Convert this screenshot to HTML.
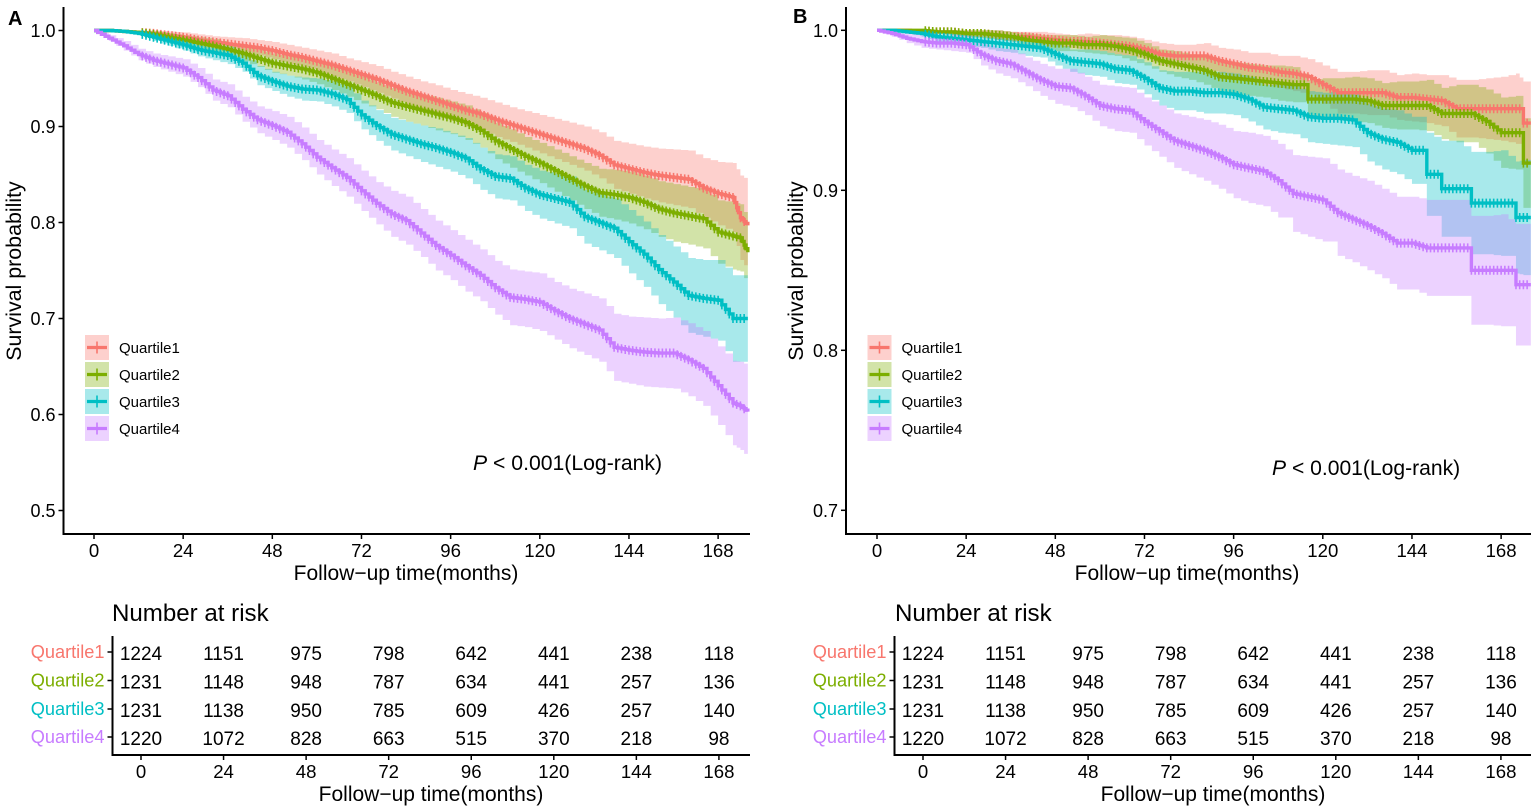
<!DOCTYPE html>
<html lang="en">
<head>
<meta charset="utf-8">
<title>Kaplan-Meier survival curves by quartile</title>
<style>
html,body{margin:0;padding:0;background:#fff;width:1535px;height:811px;overflow:hidden}
svg{display:block}
text{font-family:"Liberation Sans",Arial,sans-serif;fill:#000}
</style>
</head>
<body>
<svg id="chart" xmlns="http://www.w3.org/2000/svg" width="1535" height="811" viewBox="0 0 1535 811">
  <text x="8" y="25" font-size="20" font-weight="bold">A</text>
  <text x="793" y="23" font-size="20" font-weight="bold">B</text>
  <text transform="translate(21,271) rotate(-90)" text-anchor="middle" font-size="21.4">Survival probability</text>
  <text transform="translate(803,271) rotate(-90)" text-anchor="middle" font-size="21.4">Survival probability</text>
  <text x="406" y="580" text-anchor="middle" font-size="21">Follow−up time(months)</text>
  <text x="1187" y="580" text-anchor="middle" font-size="21">Follow−up time(months)</text>
  <text x="473" y="470" font-size="21.2"><tspan font-style="italic">P</tspan> &lt; 0.001(Log-rank)</text>
  <text x="1272" y="475" font-size="21.1"><tspan font-style="italic">P</tspan> &lt; 0.001(Log-rank)</text>
  <text x="112" y="621" font-size="24.1">Number at risk</text>
  <text x="895" y="621" font-size="24.1">Number at risk</text>
  <text x="431" y="801" text-anchor="middle" font-size="21">Follow−up time(months)</text>
  <text x="1213" y="801" text-anchor="middle" font-size="21">Follow−up time(months)</text>
</svg>
<script>
var quartileNames = ["Quartile1","Quartile2","Quartile3","Quartile4"];
var quartileColors = ["#F8766D","#7CAE00","#00BFC4","#C77CFF"];
var monthTicks = [0,24,48,72,96,120,144,168];
var yTicksA = [1.0,0.9,0.8,0.7,0.6,0.5];
var yTicksB = [1.0,0.9,0.8,0.7];
var months = [0,4,8,12,16,20,24,28,32,36,40,44,48,52,56,60,64,68,72,76,80,84,88,92,96,100,104,108,112,116,120,124,128,132,136,140,144,148,152,156,160,164,168,172,174,176];

var survivalA1 = [1,1,.999,.998,.997,.995,.993,.990,.988,.986,.984,.982,.979,.975,.972,.968,.964,.959,.954,.949,.943,.937,.932,.927,.922,.917,.913,.907,.902,.897,.892,.887,.882,.877,.870,.860,.856,.852,.849,.847,.845,.836,.830,.826,.805,.797];
var survivalA2 = [1,1,.999,.998,.996,.993,.990,.987,.984,.980,.976,.971,.966,.963,.960,.956,.950,.944,.938,.932,.925,.921,.917,.913,.909,.904,.896,.885,.877,.869,.862,.854,.846,.838,.831,.829,.826,.821,.814,.810,.807,.804,.790,.786,.784,.769];
var survivalA3 = [1,1,.999,.997,.993,.989,.985,.980,.977,.974,.966,.953,.947,.942,.939,.938,.934,.928,.912,.901,.892,.887,.882,.878,.873,.867,.856,.848,.846,.836,.829,.825,.821,.806,.800,.794,.780,.767,.751,.738,.724,.721,.719,.700,.700,.700];
var survivalA4 = [1,.992,.984,.975,.969,.965,.961,.951,.938,.932,.918,.907,.901,.894,.882,.868,.857,.847,.833,.820,.809,.802,.789,.776,.766,.755,.745,.732,.722,.720,.717,.708,.700,.694,.688,.670,.667,.665,.664,.664,.657,.648,.630,.612,.609,.603];

var ciHalfA1 = [0,0,.001,.002,.003,.004,.005,.006,.006,.007,.008,.008,.009,.010,.010,.011,.012,.012,.013,.014,.014,.015,.015,.016,.016,.017,.017,.018,.018,.019,.020,.021,.022,.023,.024,.025,.026,.027,.028,.029,.030,.031,.033,.036,.044,.047];
var ciHalfA2 = [0,0,.001,.002,.003,.004,.005,.006,.007,.007,.008,.009,.010,.010,.011,.012,.012,.013,.014,.014,.015,.016,.016,.017,.017,.018,.018,.019,.020,.020,.021,.022,.023,.024,.025,.026,.027,.028,.029,.030,.030,.031,.033,.035,.035,.034];
var ciHalfA3 = [0,0,.001,.002,.004,.005,.006,.007,.008,.009,.009,.010,.010,.011,.012,.012,.013,.014,.015,.016,.017,.018,.019,.020,.020,.021,.022,.023,.023,.024,.025,.026,.027,.028,.029,.031,.033,.034,.036,.037,.039,.040,.042,.045,.045,.045];
var ciHalfA4 = [0,.003,.005,.006,.007,.008,.009,.010,.011,.012,.013,.014,.015,.016,.017,.018,.019,.020,.021,.022,.024,.025,.025,.026,.026,.027,.027,.028,.029,.029,.030,.030,.031,.032,.033,.035,.035,.036,.036,.037,.038,.039,.041,.044,.046,.048];

var survivalB1 = [1,1,1,.999,.999,.999,.998,.998,.997,.996,.996,.995,.994,.993,.993,.992,.991,.990,.988,.985,.984,.984,.984,.981,.979,.977,.976,.974,.973,.971,.966,.961,.961,.961,.961,.958,.958,.957,.956,.951,.951,.951,.951,.951,.942,.942];
var survivalB2 = [1,1,1,1,.999,.999,.998,.998,.997,.996,.994,.993,.992,.992,.991,.991,.990,.988,.985,.981,.979,.977,.975,.971,.970,.969,.968,.967,.966,.957,.957,.957,.957,.956,.953,.953,.953,.953,.948,.948,.948,.943,.936,.936,.917,.917];
var survivalB3 = [1,1,.999,.998,.996,.995,.994,.993,.992,.991,.990,.989,.985,.981,.980,.979,.976,.975,.970,.964,.962,.962,.961,.961,.960,.957,.952,.951,.950,.946,.945,.945,.944,.936,.932,.930,.925,.910,.901,.901,.892,.892,.892,.883,.883,.883];
var survivalB4 = [1,.998,.995,.993,.992,.992,.991,.985,.981,.979,.974,.969,.965,.964,.959,.953,.951,.950,.943,.937,.931,.928,.925,.921,.916,.914,.912,.906,.898,.896,.894,.886,.882,.878,.873,.867,.867,.864,.864,.864,.850,.850,.850,.841,.841,.841];

var ciHalfB1 = [0,0,0,.001,.001,.002,.002,.002,.003,.003,.003,.004,.004,.004,.005,.005,.006,.006,.006,.007,.007,.007,.008,.008,.009,.009,.010,.010,.011,.011,.012,.013,.013,.014,.014,.014,.015,.015,.016,.018,.018,.019,.020,.022,.026,.026];
var ciHalfB2 = [0,0,0,.001,.001,.002,.002,.003,.003,.003,.004,.004,.005,.005,.005,.006,.006,.007,.007,.007,.008,.008,.009,.009,.010,.010,.010,.011,.011,.012,.013,.013,.014,.014,.014,.015,.015,.016,.016,.018,.018,.020,.022,.023,.028,.028];
var ciHalfB3 = [0,0,.001,.002,.003,.003,.004,.004,.005,.005,.006,.006,.007,.007,.008,.008,.009,.009,.010,.011,.012,.012,.013,.013,.013,.014,.014,.015,.015,.016,.016,.017,.017,.018,.019,.020,.021,.026,.030,.030,.032,.032,.033,.035,.036,.036];
var ciHalfB4 = [0,.002,.003,.004,.004,.005,.005,.007,.008,.009,.009,.010,.011,.012,.012,.013,.014,.014,.015,.016,.017,.018,.019,.020,.021,.022,.022,.023,.024,.025,.026,.027,.027,.028,.028,.029,.029,.030,.030,.030,.034,.034,.035,.038,.038,.038];

var censorMonths = [13,14,15,16,17,18,19,20,21,22,23,24,25,26,27,28,29,30,31,32,33,34,35,36,37,38,39,40,41,42,43,44,45,46,47,48,49,50,51,52,53,54,55,56,57,58,59,60,61,62,63,64,65,66,67,68,69,70,71,72,73,74,75,76,77,78,79,80,81,82,83,84,85,86,87,88,89,90,91,92,93,94,95,96,97,98,99,100,101,102,103,104,105,106,107,108,109,110,111,112,113,114,115,116,117,118,119,120,121,122,123,124,125,126,127,128,129,130,131,132,133,134,135,136,137,138,139,140,141,142,143,144,145,146,147,148,149,150,151,152,153,154,155,156,157,158,159,160,161,162,163,164,165,166,167,168,169,170,171,172,173,174,175];
var riskQ1 = [1224,1151,975,798,642,441,238,118];
var riskQ2 = [1231,1148,948,787,634,441,257,136];
var riskQ3 = [1231,1138,950,785,609,426,257,140];
var riskQ4 = [1220,1072,828,663,515,370,218,98];

var NS = "http://www.w3.org/2000/svg";
var svg = document.getElementById("chart");

function make(tag, attrs, parent) {
  var el = document.createElementNS(NS, tag);
  for (var k in attrs) el.setAttribute(k, attrs[k]);
  (parent || svg).appendChild(el);
  return el;
}
function label(str, x, y, size, anchor, fill, name) {
  var t = make("text", {x:x, y:y, "font-size":size, "text-anchor":anchor, style:"fill:"+fill});
  t.textContent = str;
  
  
  return t;
}
function rule(x1, y1, x2, y2, w, name) {
  var l = make("line", {x1:x1, y1:y1, x2:x2, y2:y2, stroke:"#000", "stroke-width":w});
  
  
  return l;
}
// Expand knots into fine stairs; drops at or above `jump` stay a single vertical step.
function stairs(values, sub, jump) {
  var ts = [months[0]], vs = [values[0]];
  for (var i = 0; i < values.length - 1; i++) {
    var dv = values[i + 1] - values[i];
    if (dv === 0 || Math.abs(dv) >= jump) {
      ts.push(months[i + 1]);
      vs.push(values[i + 1]);
    } else {
      for (var k = 1; k <= sub; k++) {
        ts.push(months[i] + (months[i + 1] - months[i]) * k / sub);
        vs.push(values[i] + dv * k / sub);
      }
    }
  }
  return {t: ts, v: vs};
}
function stepForward(xs, ys) {
  var d = "";
  for (var i = 0; i < xs.length; i++) {
    d += (i === 0 ? "M" + xs[i] + " " + ys[i] : "H" + xs[i] + "V" + ys[i]);
  }
  return d;
}
function stepBackward(xs, ys) {
  var d = "L" + xs[xs.length-1] + " " + ys[ys.length-1];
  for (var i = xs.length - 2; i >= 0; i--) {
    d += "V" + ys[i] + "H" + xs[i];
  }
  return d;
}
function valueAt(st, t) {
  var v = st.v[0];
  for (var i = 0; i < st.t.length; i++) {
    if (st.t[i] <= t) v = st.v[i];
  }
  return v;
}

function drawPanel(id, cfg) {
  // ribbons
  cfg.series.forEach(function (s, q) {
    var half = cfg.ci[q];
    var up = stairs(s.map(function (v, i) { return Math.min(1, v + half[i]); }), 2, cfg.jump);
    var lo = stairs(s.map(function (v, i) { return v - half[i]; }), 2, cfg.jump);
    var band = make("path", {d: stepForward(up.t.map(cfg.x), up.v.map(cfg.y)) + stepBackward(lo.t.map(cfg.x), lo.v.map(cfg.y)) + "Z", fill: quartileColors[q], "fill-opacity": 0.34});
    
    
  });
  // curves
  cfg.series.forEach(function (s, q) {
    var st = stairs(s, 4, cfg.jump);
    var curve = make("path", {d: stepForward(st.t.map(cfg.x), st.v.map(cfg.y)), fill: "none", stroke: quartileColors[q], "stroke-width": 3.4});
    
    
    var d = "";
    censorMonths.forEach(function (t) {
      var cy = cfg.y(valueAt(st, t));
      d += "M" + cfg.x(t) + " " + (cy - 4.5) + "V" + (cy + 4.5);
    });
    var marks = make("path", {d: d, fill: "none", stroke: quartileColors[q], "stroke-width": 1.6});
    
    
  });
  // main axes
  rule(cfg.axisX, 7, cfg.axisX, 535, 2, id + '-y-axis-line');
  rule(cfg.axisX - 1, 534, cfg.endX, 534, 2, id + '-x-axis-line');
  cfg.yTicks.forEach(function (v) {
    rule(cfg.axisX - 5, cfg.y(v), cfg.axisX, cfg.y(v), 1.5, id + '-y-tick');
    label(v.toFixed(1), cfg.axisX - 8, cfg.y(v) + 6.5, 18, "end", "#000", id + '-y-tick-label');
  });
  monthTicks.forEach(function (m) {
    rule(cfg.x(m), 534, cfg.x(m), 539, 1.5, id + '-x-tick');
    label(m, cfg.x(m), 557, 18.6, "middle", "#000", id + '-x-tick-label');
  });
  // legend
  var boxTops = [335, 362, 389, 416];
  quartileNames.forEach(function (n, q) {
    var lx = cfg.axisX + 21.5, ty = boxTops[q];
    var swatch = make("rect", {x: lx, y: ty, width: 24, height: 25, fill: quartileColors[q], "fill-opacity": 0.34});
    
    
    var keyLine = make("path", {d: "M" + (lx + 2) + " " + (ty + 12.5) + "H" + (lx + 22), stroke: quartileColors[q], "stroke-width": 3.2, fill: "none"});
    
    
    var keyTick = make("path", {d: "M" + (lx + 12) + " " + (ty + 6.5) + "V" + (ty + 18.5), stroke: quartileColors[q], "stroke-width": 1.6, fill: "none"});
    
    
    label(n, lx + 34, ty + 18, 15, "start", "#000", id + '-legend-label-q' + (q + 1));
  });
  // risk table
  var rowY = [652, 680.5, 709, 737];
  var riskRows = [riskQ1, riskQ2, riskQ3, riskQ4];
  rule(cfg.riskAxisX, 636, cfg.riskAxisX, 756, 2, id + '-risk-y-axis');
  rule(cfg.riskAxisX - 1, 755, cfg.endX, 755, 2, id + '-risk-x-axis');
  quartileNames.forEach(function (n, q) {
    rule(cfg.riskAxisX - 5, rowY[q], cfg.riskAxisX, rowY[q], 1.5, id + '-risk-row-tick');
    label(n, cfg.riskAxisX - 8, rowY[q] + 6, 18.2, "end", quartileColors[q], id + '-risk-row-label-q' + (q + 1));
    riskRows[q].forEach(function (n2, c) {
      label(n2, cfg.riskX(monthTicks[c]), rowY[q] + 8, 19, "middle", "#000", id + '-risk-count');
    });
  });
  monthTicks.forEach(function (m) {
    rule(cfg.riskX(m), 755, cfg.riskX(m), 760, 1.5, id + '-risk-x-tick');
    label(m, cfg.riskX(m), 778, 18.6, "middle", "#000", id + '-risk-x-tick-label');
  });
}

function xA(t) { return 94 + t * 3.715; }
function yA(v) { return 30.5 + (1 - v) * 960; }
function xB(t) { return 877 + t * 3.715; }
function yB(v) { return 30.3 + (1 - v) * 1600; }
function riskXA(t) { return 141 + t * 3.44; }
function riskXB(t) { return 923 + t * 3.44; }

drawPanel("panel-a", {
  x: xA, y: yA, riskX: riskXA, axisX: 63.5, riskAxisX: 112.5, endX: 750, yTicks: yTicksA, jump: 0.03,
  series: [survivalA1, survivalA2, survivalA3, survivalA4],
  ci: [ciHalfA1, ciHalfA2, ciHalfA3, ciHalfA4]
});
drawPanel("panel-b", {
  x: xB, y: yB, riskX: riskXB, axisX: 846, riskAxisX: 894.5, endX: 1531, yTicks: yTicksB, jump: 0.009,
  series: [survivalB1, survivalB2, survivalB3, survivalB4],
  ci: [ciHalfB1, ciHalfB2, ciHalfB3, ciHalfB4]
});
</script>
</body>
</html>
